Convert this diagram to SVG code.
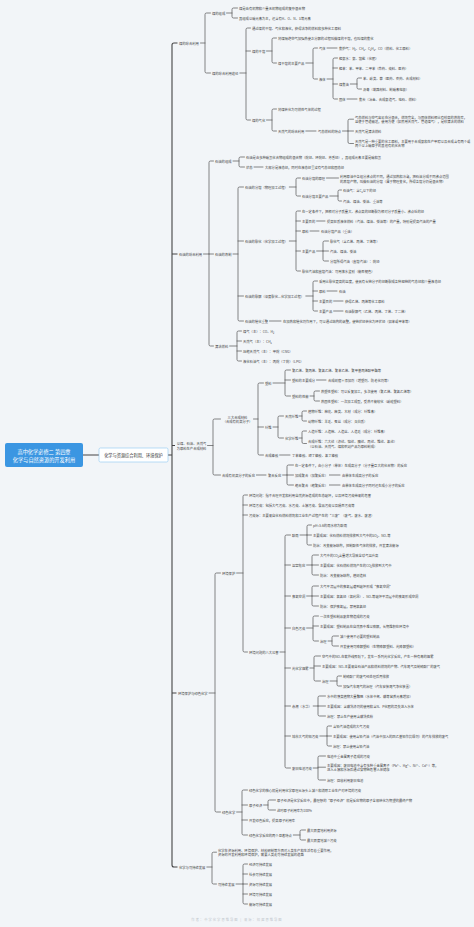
<svg xmlns="http://www.w3.org/2000/svg" width="474" height="927" viewBox="0 0 474 927">
<style>
.t{font-family:"Noto Sans CJK SC","Noto Sans",sans-serif;font-size:3.3px;fill:#444;dominant-baseline:central}
.m{text-anchor:middle}
.c{fill:none;stroke:#555;stroke-width:.7;stroke-linecap:round}
.c1{fill:none;stroke:#444;stroke-width:1.1}
.root{fill:#3b96e2}
.rt{font-family:"Noto Sans CJK SC","Noto Sans",sans-serif;font-size:5.2px;fill:#fff;text-anchor:middle;dominant-baseline:central}
.l1{fill:#fff;stroke:#8cc8f2;stroke-width:.6}
.l1t{font-family:"Noto Sans CJK SC","Noto Sans",sans-serif;font-size:4.2px;fill:#333;text-anchor:middle;dominant-baseline:central}
.wm{font-family:"Noto Sans CJK SC","Noto Sans",sans-serif;font-size:3.3px;fill:#c3c8ce;text-anchor:middle;dominant-baseline:central;letter-spacing:1px}
</style>
<rect width="474" height="927" fill="#f2f5f8"/>
<g id="connectors">
<path class="c1" d="M83 455H99M168 455H172M177.5 43H174Q172 43 172 45V865Q172 867 174 867H177.5M172 254H177.5M172 445.5H175M172 693H176.5"/>
<path class="c" d="M200.5 43H205M210.5 13H206.5Q205 13 205 14.5V71.5Q205 73 206.5 73H210.5
M226.5 13H232M237.5 8H233.5Q232 8 232 9.5V16.5Q232 18 233.5 18H237.5
M239.8 73H246M250.5 28H247.5Q246 28 246 29.5V118.5Q246 120 247.5 120H250.5M246 51H250.5
M266.5 51H272M276.5 38H273.5Q272 38 272 39.5V61.5Q272 63 273.5 63H276.5
M305.8 63H313M317.5 48H314.5Q313 48 313 49.5V77.5Q313 79 314.5 79H317.5
M327 48H337
M327 79H333M337.5 58H334.5Q333 58 333 59.5V97.5Q333 99 334.5 99H337.5M333 68H337.5M333 84H337.5
M350.3 84H357M361.5 78H358.5Q357 78 357 79.5V87.5Q357 89 358.5 89H361.5
M347 99H357
M266.5 120H272M276.5 109H273.5Q272 109 272 110.5V129.5Q272 131 273.5 131H276.5
M305.8 131H316M342.5 131H348M353.5 119.2H349.5Q348 119.2 348 120.7V142Q348 143.5 349.5 143.5H353.5M348 131H353.5
M203.5 254H209M213.5 161H210.5Q209 161 209 162.5V344.5Q209 346 210.5 346H213.5M209 254H213.5
M233 161H239M244.5 157H240.5Q239 157 239 158.5V165.5Q239 167 240.5 167H244.5
M254 167H263
M233 254H238M243.5 187H239.5Q238 187 238 188.5V319.5Q238 321 239.5 321H243.5M238 241H243.5M238 296H243.5
M289.3 187H296M300.5 178H297.5Q296 178 296 179.5V194.5Q296 196 297.5 196H300.5
M326.5 178H338.5
M329.8 196H338M341.5 190H339.5Q338 190 338 191.5V199.5Q338 201 339.5 201H341.5
M289.3 241H296M300.5 211H297.5Q296 211 296 212.5V269.5Q296 271 297.5 271H300.5M296 221H300.5M296 231H300.5M296 251H300.5
M316.6 221H325M310 231H319
M316.6 251H323M328.5 241H324.5Q323 241 323 242.5V259.5Q323 261 324.5 261H328.5M323 251H328.5
M305.8 296H313M317.5 281H314.5Q313 281 313 282.5V309.5Q313 311 314.5 311H317.5M313 291H317.5M313 301H317.5
M327 291H337M333.6 301H343M333.6 311H343
M269.5 321H281
M229.6 346H237M241.5 331H238.5Q237 331 237 332.5V359.5Q237 361 238.5 361H241.5M237 341H241.5M237 351H241.5
M207.5 445.5H213M220.5 419H214.5Q213 419 213 420.5V473.5Q213 475 214.5 475H220.5
M253.5 419H258M263.5 383H259.5Q258 383 258 384.5V453.5Q258 455 259.5 455H263.5M258 427H263.5
M273 383H285M290.5 370H286.5Q285 370 285 371.5V394.5Q285 396 286.5 396H290.5M285 380H290.5
M316.5 380H326
M310 396H314M319.5 391H315.5Q314 391 314 392.5V399.5Q314 401 315.5 401H319.5
M273 427H278M283.5 416H279.5Q278 416 278 417.5V436.5Q278 438 279.5 438H283.5
M299 416H302M306.5 411H303.5Q302 411 302 412.5V419.5Q302 421 303.5 421H306.5
M299 438H302M306.5 431H303.5Q302 431 302 432.5V442Q302 443.5 303.5 443.5H306.5
M279.6 455H290
M256.4 475H266M282.6 475H287M293.5 465H288.5Q287 465 287 466.5V483.5Q287 485 288.5 485H293.5M287 475H293.5
M329.4 475H340M329.4 485H340
M209 693H215M220.5 573H216.5Q215 573 215 574.5V810.5Q215 812 216.5 812H220.5
M236.6 573H243M247.5 495H244.5Q243 495 243 496.5V650.5Q243 652 244.5 652H247.5M243 505H247.5M243 515H247.5
M280 652H285M290.5 535H286.5Q285 535 285 536.5V766.5Q285 768 286.5 768H290.5M285 565H290.5M285 596H290.5M285 628H290.5M285 668H290.5M285 706H290.5M285 736H290.5
M300 535H307M311.5 525H308.5Q307 525 307 526.5V543.5Q307 545 308.5 545H311.5M307 535H311.5
M306.6 565H312M318.5 555H313.5Q312 555 312 556.5V573.5Q312 575 313.5 575H318.5M312 565H318.5
M306.6 596H312M318.5 586H313.5Q312 586 312 587.5V604.5Q312 606 313.5 606H318.5M312 596H318.5
M306.6 628H313M318.5 616H314.5Q313 616 313 617.5V639.5Q313 641 314.5 641H318.5M313 626H318.5
M328 641H332M338.5 636H333.5Q332 636 332 637.5V644.5Q332 646 333.5 646H338.5
M309.9 668H314M320.5 656H315.5Q314 656 314 657.5V679.5Q314 681 315.5 681H320.5M314 666H320.5
M330 681H337M341.5 676H338.5Q337 676 337 677.5V684.5Q337 686 338.5 686H341.5
M313.2 706H318M325.5 696H319.5Q318 696 318 697.5V714.5Q318 716 319.5 716H325.5M318 706H325.5
M319.8 736H327M331.5 726H328.5Q327 726 327 727.5V744.5Q327 746 328.5 746H331.5M327 736H331.5
M313.2 768H318M325.5 756H319.5Q318 756 318 757.5V778.5Q318 780 319.5 780H325.5M318 767.2H325.5
M236.6 812H242M247.5 790H243.5Q242 790 242 791.5V833.5Q242 835 243.5 835H247.5M242 805H247.5M242 820H247.5
M263.6 805H268M275.5 800H269.5Q268 800 268 801.5V808.5Q268 810 269.5 810H275.5
M293.3 835H300M305.5 830H301.5Q300 830 300 831.5V838.5Q300 840 301.5 840H305.5
M206.8 867H212M216.5 852.2H213.5Q212 852.2 212 853.7V882.5Q212 884 213.5 884H216.5
M236 884H243M247.5 864H244.5Q243 864 243 865.5V902.5Q243 904 244.5 904H247.5M243 874H247.5M243 884H247.5M243 894H247.5"/>
</g>
<g id="root"><rect class="root" x="5" y="443" width="78" height="24" rx="2"/><text class="rt" x="44" y="451">高中化学必修二 第四章</text><text class="rt" x="44" y="459.5">化学与自然资源的开发利用</text></g>
<g id="main"><rect class="l1" x="99" y="448" width="69" height="14" rx="1.5"/><text class="l1t" x="133.5" y="455">化学与资源综合利用、环境保护</text></g>

<g id="coal"><text class="t" x="179" y="43">煤的综合利用</text></g>
<g id="coal-comp"><text class="t" x="212" y="13">煤的组成</text></g>
<g id="coal-comp-1"><text class="t" x="239" y="8">煤是由有机物和少量无机物组成的复杂混合物</text></g>
<g id="coal-comp-2"><text class="t" x="239" y="18">其组成以碳元素为主，还含有H、O、N、S等元素</text></g>
<g id="coal-use"><text class="t" x="212" y="73">煤的综合利用途径</text></g>
<g id="coal-use-1"><text class="t" x="252" y="28">通过煤的干馏、气化和液化，获得洁净的燃料和多种化工原料</text></g>
<g id="coal-dist"><text class="t" x="252" y="51">煤的干馏</text></g>
<g id="coal-dist-1"><text class="t" x="278" y="38">将煤隔绝空气加强热使之分解的过程叫做煤的干馏，也叫煤的焦化</text></g>
<g id="coal-prod"><text class="t" x="278" y="63">煤干馏的主要产品</text></g>
<g id="gas"><text class="t" x="319" y="48">气体</text><text class="t" x="339" y="48">焦炉气：H₂、CH₄、C₂H₄、CO（燃料、化工原料）</text></g>
<g id="liquid"><text class="t" x="319" y="79">液体</text></g>
<g id="liq-1"><text class="t" x="339" y="58">粗氨水：氨、铵盐（化肥）</text></g>
<g id="liq-2"><text class="t" x="339" y="68">粗苯：苯、甲苯、二甲苯（炸药、染料、医药）</text></g>
<g id="tar"><text class="t" x="339" y="84">煤焦油</text></g>
<g id="tar-1"><text class="t" x="363" y="78">苯、酚类、萘（医药、农药、合成材料）</text></g>
<g id="tar-2"><text class="t" x="363" y="89">沥青（筑路材料、制碳素电极）</text></g>
<g id="solid"><text class="t" x="339" y="99">固体</text><text class="t" x="359" y="99">焦炭（冶金、合成氨造气、电石、燃料）</text></g>
<g id="coal-gas"><text class="t" x="252" y="120">煤的气化</text></g>
<g id="coal-gas-1"><text class="t" x="278" y="109">将煤转化为可燃性气体的过程</text></g>
<g id="ng"><text class="t" x="278" y="131">天然气的综合利用</text><text class="t" x="318" y="131">气态燃料的特点</text></g>
<g id="ng-1"><text class="t" x="355" y="117">气态燃料与空气容易充分混合，燃烧完全，与固体燃料相比有较高的热效率，</text><text class="t" x="355" y="121.5">且便于管道输送，使用方便（如民用天然气、管道煤气），是较清洁的燃料</text></g>
<g id="ng-2"><text class="t" x="355" y="131">天然气是清洁燃料</text></g>
<g id="ng-3"><text class="t" x="355" y="141.3">天然气是一种重要的化工原料，主要用于合成氨和生产甲醇以及合成含有两个或</text><text class="t" x="355" y="145.7">两个以上碳原子的其他有机化合物</text></g>

<g id="oil"><text class="t" x="179" y="254">石油的综合利用</text></g>
<g id="oil-comp"><text class="t" x="215" y="161">石油的组成</text></g>
<g id="oil-comp-1"><text class="t" x="246" y="157">石油是由多种碳氢化合物组成的混合物（烷烃、环烷烃、芳香烃），其组成元素主要是碳和氢</text></g>
<g id="oil-state"><text class="t" x="246" y="167">状态</text><text class="t" x="265" y="167">大部分是液态烃，同时在液态烃里溶有气态烃和固态烃</text></g>
<g id="oil-refine"><text class="t" x="215" y="254">石油的炼制</text></g>
<g id="frac"><text class="t" x="245" y="187">石油的分馏（物理加工过程）</text></g>
<g id="frac-1"><text class="t" x="302" y="178">石油分馏的原理</text><text class="t" x="340" y="176.5">利用原油中各组分沸点的不同，通过加热和冷凝，把石油分成不同沸点范围</text><text class="t" x="340" y="181">的蒸馏产物，叫做石油的分馏（属于物理变化，所得各馏分仍是混合物）</text></g>
<g id="frac-2"><text class="t" x="302" y="196">石油分馏主要产品</text></g>
<g id="frac-2a"><text class="t" x="343" y="190">石油气：含C₄以下的烃</text></g>
<g id="frac-2b"><text class="t" x="343" y="201">汽油、煤油、柴油、重油等</text></g>
<g id="crack"><text class="t" x="245" y="241">石油的裂化（化学加工过程）</text></g>
<g id="crack-1"><text class="t" x="302" y="211">在一定条件下，把相对分子质量大、沸点高的烃断裂为相对分子质量小、沸点低的烃</text></g>
<g id="crack-2"><text class="t" x="302" y="221">主要目的</text><text class="t" x="327" y="221">提高轻质液体燃料（汽油、煤油、柴油等）的产量，特别是提高汽油的产量</text></g>
<g id="crack-3"><text class="t" x="302" y="231">原料</text><text class="t" x="321" y="231">石油分馏产品（重油）</text></g>
<g id="crack-4"><text class="t" x="302" y="251">主要产品</text></g>
<g id="crack-4a"><text class="t" x="330" y="241">裂化气（含乙烯、丙烯、丁烯等）</text></g>
<g id="crack-4b"><text class="t" x="330" y="251">汽油、煤油、柴油</text></g>
<g id="crack-4c"><text class="t" x="330" y="261">分馏所得汽油（直馏汽油）：烷烃</text></g>
<g id="crack-5"><text class="t" x="302" y="271">裂化汽油和直馏汽油：可用溴水鉴别（能否褪色）</text></g>
<g id="pyro"><text class="t" x="245" y="296">石油的裂解（深度裂化—化学加工过程）</text></g>
<g id="pyro-1"><text class="t" x="319" y="281">采用比裂化更高的温度，使具有长链分子的烃断裂成各种短链的气态烃和少量液态烃</text></g>
<g id="pyro-2"><text class="t" x="319" y="291">原料</text><text class="t" x="339" y="291">石油</text></g>
<g id="pyro-3"><text class="t" x="319" y="301">主要目的</text><text class="t" x="345" y="301">获得乙烯、丙烯等化工原料</text></g>
<g id="pyro-4"><text class="t" x="319" y="311">主要产品</text><text class="t" x="345" y="311">石油裂解气（乙烯、丙烯、丁烯、丁二烯）</text></g>
<g id="reform"><text class="t" x="245" y="321">石油的催化重整</text><text class="t" x="283" y="321">在加热和催化剂作用下，可以通过结构的调整，使链状烃转化为环状烃（如苯或甲苯等）</text></g>
<g id="fuel"><text class="t" x="215" y="346">清洁燃料</text></g>
<g id="fuel-1"><text class="t" x="243" y="331">煤气（主）：CO、H₂</text></g>
<g id="fuel-2"><text class="t" x="243" y="341">天然气（主）：CH₄</text></g>
<g id="fuel-3"><text class="t" x="243" y="351">压缩天然气（主）：甲烷（CNG）</text></g>
<g id="fuel-4"><text class="t" x="243" y="361">液化石油气（主）：丙烷（丁烷）（LPG）</text></g>

<g id="mat"><text class="t m" x="191.5" y="443">以煤、石油、天然气</text><text class="t m" x="191.5" y="448">为原料生产合成材料</text></g>
<g id="mat3"><text class="t m" x="237.5" y="417">三大合成材料</text><text class="t m" x="237.5" y="421.5">（合成有机高分子）</text></g>
<g id="plastic"><text class="t" x="265" y="383">塑料</text></g>
<g id="plastic-1"><text class="t" x="292" y="370">聚乙烯、聚丙烯、聚氯乙烯、聚苯乙烯、聚甲基丙烯酸甲酯等</text></g>
<g id="plastic-2"><text class="t" x="292" y="380">塑料的主要成分</text><text class="t" x="328" y="380">合成树脂＋添加剂（增塑剂、防老化剂等）</text></g>
<g id="plastic-3"><text class="t" x="292" y="396">塑料的性能</text></g>
<g id="plastic-3a"><text class="t" x="321" y="391">热塑性塑料：可以反复加工，多次使用（聚乙烯、聚氯乙烯等）</text></g>
<g id="plastic-3b"><text class="t" x="321" y="401">热固性塑料：一次加工成型，受热不能软化（酚醛塑料）</text></g>
<g id="fiber"><text class="t" x="265" y="427">纤维</text></g>
<g id="fiber-n"><text class="t" x="285" y="416">天然纤维</text></g>
<g id="fiber-n1"><text class="t" x="308" y="411">植物纤维：棉花、麻类、木材（成分：纤维素）</text></g>
<g id="fiber-n2"><text class="t" x="308" y="421">动物纤维：羊毛、蚕丝（成分：蛋白质）</text></g>
<g id="fiber-c"><text class="t" x="285" y="438">化学纤维</text></g>
<g id="fiber-c1"><text class="t" x="308" y="431">人造纤维：人造棉、人造丝、人造毛（成分：纤维素）</text></g>
<g id="fiber-c2"><text class="t" x="308" y="441.5">合成纤维：六大纶（涤纶、锦纶、腈纶、丙纶、维纶、氯纶）</text><text class="t" x="308" y="446">（以石油、天然气、煤和农副产品为原料制成）</text></g>
<g id="rubber"><text class="t" x="265" y="455">合成橡胶</text><text class="t" x="292" y="455">丁苯橡胶、顺丁橡胶、氯丁橡胶</text></g>
<g id="poly"><text class="t" x="222" y="475">合成有机高分子的反应</text><text class="t" x="268" y="475">聚合反应</text></g>
<g id="poly-1"><text class="t" x="295" y="465">在一定条件下，由小分子（单体）生成高分子（分子量巨大的化合物）的反应</text></g>
<g id="poly-2"><text class="t" x="295" y="475">加成聚合（加聚反应）</text><text class="t" x="342" y="475">由单体生成高分子的反应</text></g>
<g id="poly-3"><text class="t" x="295" y="485">缩合聚合（缩聚反应）</text><text class="t" x="342" y="485">由单体生成高分子同时还生成小分子的反应</text></g>

<g id="env-green"><text class="t" x="178" y="693">环境保护与绿色化学</text></g>
<g id="env"><text class="t" x="222" y="573">环境保护</text></g>
<g id="env-1"><text class="t" x="249" y="495">环境问题：指不合理开发和利用自然资源造成的生态破坏，以及环境污染带来的危害</text></g>
<g id="env-2"><text class="t" x="249" y="505">环境污染：包括大气污染、水污染、土壤污染、食品污染以及噪声污染等</text></g>
<g id="env-3"><text class="t" x="249" y="515">污染源：主要来自化石燃料燃烧和工业生产过程产生的“三废”（废气、废水、废渣）</text></g>
<g id="env-8"><text class="t" x="249" y="652">环境问题的八大公害</text></g>
<g id="acid"><text class="t" x="292" y="535">酸雨</text></g>
<g id="acid-1"><text class="t" x="313" y="525">pH&lt;5.6的雨水称为酸雨</text></g>
<g id="acid-2"><text class="t" x="313" y="535">主要成因：化石燃料燃烧排放到大气中的SO₂、NOₓ等</text></g>
<g id="acid-3"><text class="t" x="313" y="545">防治：改变能源结构，控制酸性气体的排放，开发清洁能源</text></g>
<g id="green-house"><text class="t" x="292" y="565">温室效应</text></g>
<g id="gh-1"><text class="t" x="320" y="555">大气中的CO₂含量增大导致全球气温升高</text></g>
<g id="gh-2"><text class="t" x="320" y="565">主要成因：化石燃料燃烧产生的CO₂排放到大气中</text></g>
<g id="gh-3"><text class="t" x="320" y="575">防治：改变能源结构，植树造林</text></g>
<g id="ozone"><text class="t" x="292" y="596">臭氧空洞</text></g>
<g id="oz-1"><text class="t" x="320" y="586">大气平流层中的臭氧层遭到破坏形成“臭氧空洞”</text></g>
<g id="oz-2"><text class="t" x="320" y="596">主要成因：氟氯烃（氟利昂）、NOₓ等破坏平流层中的臭氧形成空洞</text></g>
<g id="oz-3"><text class="t" x="320" y="606">防治：保护臭氧层，禁用氟氯烃</text></g>
<g id="white"><text class="t" x="292" y="628">白色污染</text></g>
<g id="wh-1"><text class="t" x="320" y="616">一次性塑料制品废弃物造成的污染</text></g>
<g id="wh-2"><text class="t" x="320" y="626">主要成因：塑料制品在自然界中难以降解，长期堆积在环境中</text></g>
<g id="wh-3"><text class="t" x="320" y="641">治理</text></g>
<g id="wh-3a"><text class="t" x="340" y="636">减少使用不必要的塑料制品</text></g>
<g id="wh-3b"><text class="t" x="340" y="646">开发使用可降解塑料（生物降解塑料、光降解塑料）</text></g>
<g id="smog"><text class="t" x="292" y="668">光化学烟雾</text></g>
<g id="sm-1"><text class="t" x="322" y="656">空气中的NOₓ在紫外线照射下，发生一系列光化学反应，产生一种有毒的烟雾</text></g>
<g id="sm-2"><text class="t" x="322" y="666">主要成因：NOₓ主要来自石油产品和燃料燃烧的产物、汽车尾气及制硝酸厂的废气</text></g>
<g id="sm-3"><text class="t" x="322" y="681">治理</text></g>
<g id="sm-3a"><text class="t" x="343" y="676">制硝酸厂的废气经处理后再排放</text></g>
<g id="sm-3b"><text class="t" x="343" y="686">加强汽车尾气的治理（汽车安装尾气净化装置）</text></g>
<g id="tide"><text class="t" x="292" y="706">赤潮（水华）</text></g>
<g id="ti-1"><text class="t" x="327" y="696">水中的藻类植物大量繁殖（水体中氮、磷等营养元素增加）</text></g>
<g id="ti-2"><text class="t" x="327" y="706">主要成因：含磷洗涤剂的使用和含N、P化肥的流失进入水体</text></g>
<g id="ti-3"><text class="t" x="327" y="716">治理：禁止生产使用含磷洗衣粉</text></g>
<g id="lead"><text class="t" x="292" y="736">城市大气的铅污染</text></g>
<g id="le-1"><text class="t" x="333" y="726">含铅汽油造成的大气污染</text></g>
<g id="le-2"><text class="t" x="333" y="736">主要成因：使用含铅汽油（汽油中加入的四乙基铅作抗爆剂）的汽车排放的废气</text></g>
<g id="le-3"><text class="t" x="333" y="746">治理：禁止使用含铅汽油</text></g>
<g id="battery"><text class="t" x="292" y="768">废旧电池污染</text></g>
<g id="ba-1"><text class="t" x="327" y="756">电池中重金属离子造成的污染</text></g>
<g id="ba-2"><text class="t" x="327" y="765">主要成因：废旧电池中含有多种重金属离子（Pb²⁺、Hg²⁺、Ni²⁺、Cd²⁺）等，</text><text class="t" x="327" y="769.5">进入土壤和水源后通过食物链危害人体健康</text></g>
<g id="ba-3"><text class="t" x="327" y="780">治理：回收利用废旧电池</text></g>
<g id="green"><text class="t" x="222" y="812">绿色化学</text></g>
<g id="gr-1"><text class="t" x="249" y="790">绿色化学的核心就是利用化学原理从源头上减少和消除工业生产对环境的污染</text></g>
<g id="gr-2"><text class="t" x="249" y="805">原子经济</text></g>
<g id="gr-2a"><text class="t" x="277" y="800">原子经济是化学反应中，最理想的“原子经济”就是反应物的原子全部转化为期望的最终产物</text></g>
<g id="gr-2b"><text class="t" x="277" y="810">这时原子利用率为100%</text></g>
<g id="gr-3"><text class="t" x="249" y="820">开发绿色反应，提高原子利用率</text></g>
<g id="gr-4"><text class="t" x="249" y="835">绿色化学反应的两个显著特点</text></g>
<g id="gr-4a"><text class="t" x="307" y="830">最大限度地利用资源</text></g>
<g id="gr-4b"><text class="t" x="307" y="840">最大限度地减少污染</text></g>

<g id="sustain"><text class="t" x="179" y="867">化学与可持续发展</text></g>
<g id="su-1"><text class="t" x="218" y="850">化学在资源利用、环境保护、材料研制等方面对人类生产和生活有着重要作用，</text><text class="t" x="218" y="854.5">资源的开发利用和环境保护，需要人类走可持续发展的道路</text></g>
<g id="su-2"><text class="t" x="218" y="884">可持续发展</text></g>
<g id="su-2a"><text class="t" x="249" y="864">经济可持续发展</text></g>
<g id="su-2b"><text class="t" x="249" y="874">社会可持续发展</text></g>
<g id="su-2c"><text class="t" x="249" y="884">资源可持续发展</text></g>
<g id="su-2d"><text class="t" x="249" y="894">环境可持续发展</text></g>
<g id="su-2e"><text class="t" x="249" y="904">能源可持续发展</text></g>
<g id="watermark"><text class="wm" x="237" y="919">作者：中学化学思维导图 | 来源：知犀思维导图</text></g>
</svg>
